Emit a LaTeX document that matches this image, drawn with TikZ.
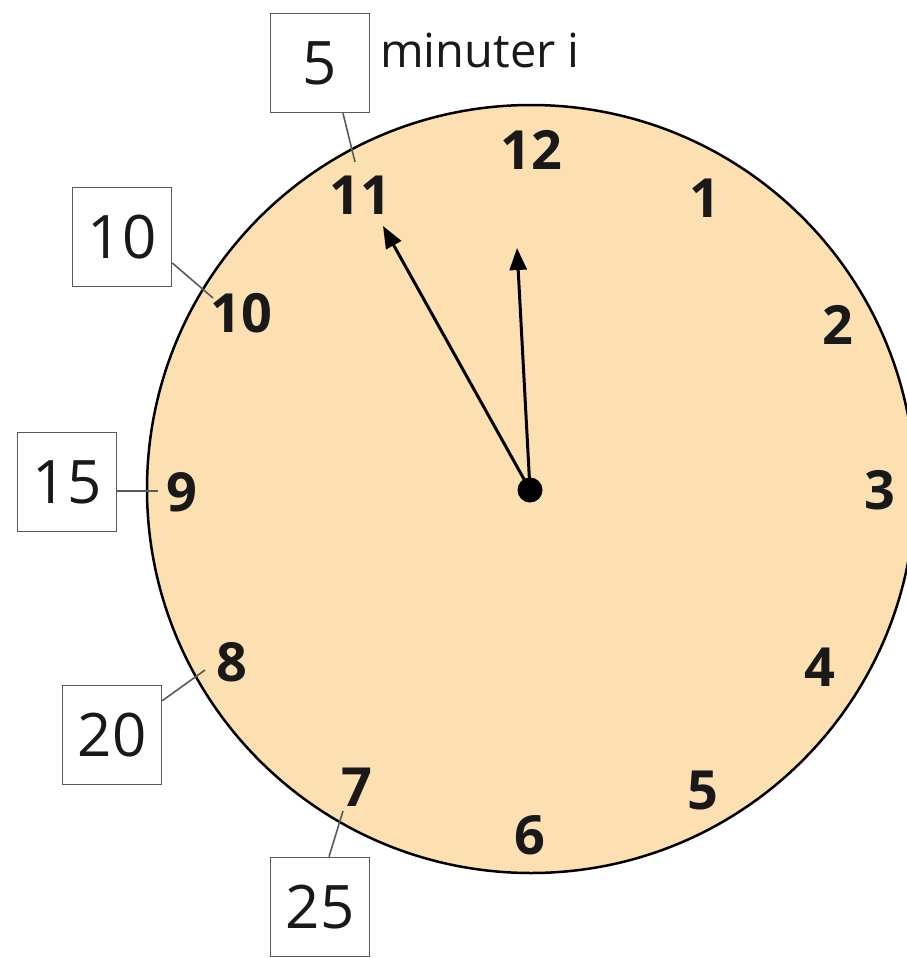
\documentclass[tikz,border=0pt]{standalone}
\usepackage{fontspec}
\setmainfont{Open Sans}
\usetikzlibrary{arrows.meta}
\definecolor{face}{HTML}{FCE0B2}
\definecolor{boxline}{HTML}{5A5A5A}
\tikzset{
  num/.style={font=\fontsize{54}{56}\selectfont\bfseries, text=black!90, inner sep=0pt},
  minbox/.style={draw=boxline, line width=1.6pt, fill=white, minimum width=99pt, minimum height=99pt, inner sep=0pt, font=\fontsize{60}{62}\selectfont, text=black!90},
  leader/.style={draw=boxline, line width=1.6pt},
  hand/.style={line width=3pt, -{Triangle[length=22pt,width=17pt]}}
}
\begin{document}
\begin{tikzpicture}[x=1pt,y=-1pt]
\useasboundingbox (0,0) rectangle (907,958);
\fill[white] (0,0) rectangle (907,958);
% clock face
\node[circle, draw=black, line width=2.5pt, fill=face, minimum size=768pt, inner sep=0pt] (face) at (531,489) {};
% numbers
\node[num] (n12) at (531,150) {12};
\node[num] (n1) at (705,198) {1};
\node[num] (n2) at (838,325) {2};
\node[num] (n3) at (880,490) {3};
\node[num] (n4) at (820,667) {4};
\node[num] (n5) at (703,790) {5};
\node[num] (n6) at (530,835) {6};
\node[num] (n7) at (357,787) {7};
\node[num] (n8) at (232,662) {8};
\node[num] (n9) at (182,492) {9};
\node[num] (n10) at (241,313) {10};
\node[num] (n11) at (360,195) {11};
% hands
\coordinate (c) at (530,490);
\coordinate (mtip) at (383,226);
\coordinate (htip) at (517,248);
\draw[hand] (c) -- (mtip);
\draw[hand] (c) -- (htip);
\fill[black] (c) circle (12.5pt);
% minute boxes
\node[minbox] (b5) at (320,63) {5};
\node[font=\fontsize{47}{49}\selectfont, text=black!90, anchor=west, inner sep=0pt] (lbl) at (380,50) {minuter i};
\node[minbox] (b10) at (122,237) {10};
\node[minbox] (b15) at (67,482) {15};
\node[minbox] (b20) at (112,735) {20};
\node[minbox] (b25) at (320,907) {25};
% leaders
\coordinate (e5) at (355,162);
\coordinate (e10) at (213,298);
\coordinate (e15) at (158,491);
\coordinate (e20) at (205,670);
\coordinate (e25) at (343,811);
\draw[leader] (b5.south) ++(23,0) coordinate (s5) -- (e5);
\draw[leader] (b10.east) ++(0,26) coordinate (s10) -- (e10);
\draw[leader] (b15.east) ++(0,9) coordinate (s15) -- (e15);
\draw[leader] (b20.north east) ++(0,16) coordinate (s20) -- (e20);
\draw[leader] (b25.north) ++(9,0) coordinate (s25) -- (e25);
\end{tikzpicture}
\end{document}
